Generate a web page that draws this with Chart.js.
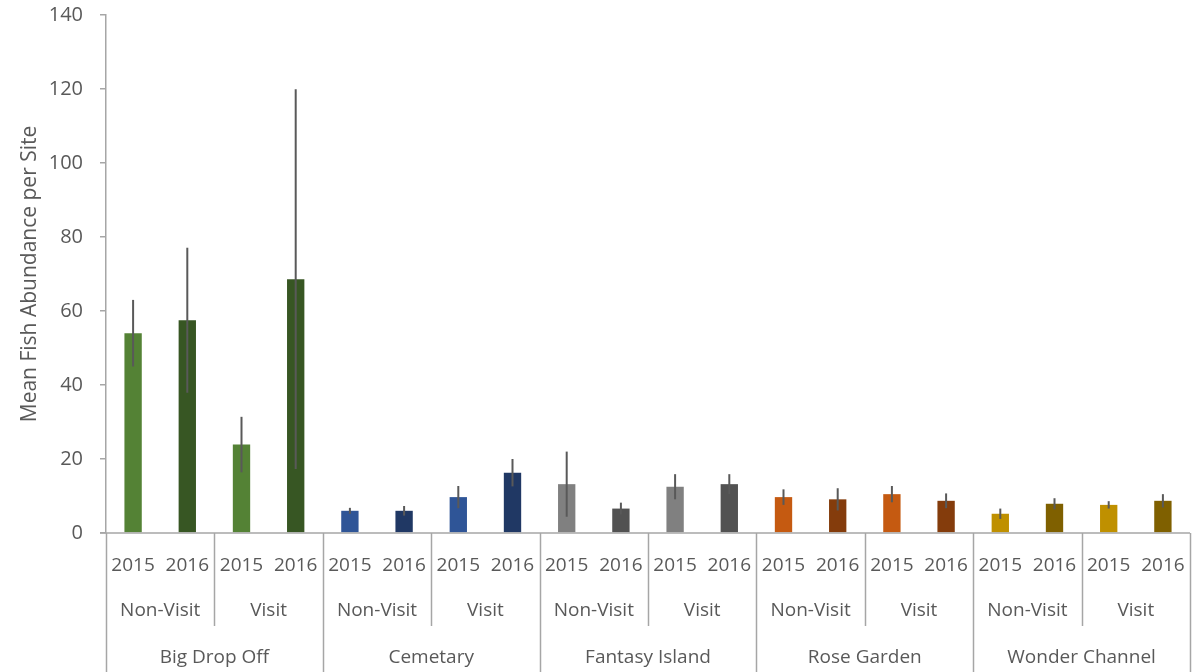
<!DOCTYPE html>
<html>
<head>
<meta charset="utf-8">
<script src="https://cdn.jsdelivr.net/npm/chart.js@4.4.1/dist/chart.umd.min.js"></script>
<style>
  html, body { margin: 0; padding: 0; background: #fff; }
  #wrap { width: 1203px; height: 672px; position: relative; }
</style>
</head>
<body>
<div id="wrap"><canvas id="grafico"></canvas></div>
<script>
// Sites, visit status and survey years (three-level category axis)
const sites  = ['Big Drop Off', 'Cemetary', 'Fantasy Island', 'Rose Garden', 'Wonder Channel'];
const visitas = ['Non-Visit', 'Visit'];
const anos   = ['2015', '2016'];

// Mean fish abundance, in order site > visit > year
const medias = [
  54.0, 57.5, 23.9, 68.6,
   6.0,  6.0,  9.7, 16.3,
  13.2,  6.6, 12.5, 13.2,
   9.7,  9.1, 10.5,  8.7,
   5.2,  7.9,  7.6,  8.7
];

// Error bar half-widths (same order)
const erros = [
   9.0, 19.6,  7.5, 51.3,
   0.8,  1.3,  3.0,  3.7,
   8.8,  1.6,  3.4,  2.7,
   2.1,  3.0,  2.2,  2.0,
   1.4,  1.5,  1.0,  1.8
];

// Per-site colours: [2015, 2016]
const coresSite = [
  ['#548235', '#375623'],
  ['#2F5597', '#203864'],
  ['#808080', '#525252'],
  ['#C55A11', '#843C0C'],
  ['#BF9000', '#7F6000']
];

const COR_TEXTO = '#595959';
const COR_LINHA = '#a6a6a6';
const FONTE = '"Open Sans", "Liberation Sans", sans-serif';

/* ── Montagem das categorias ─────────────────────────────── */
const labels = [];
const cores = [];
sites.forEach((s, si) => {
  visitas.forEach(v => {
    anos.forEach((a, ai) => {
      labels.push(`${s} | ${v} | ${a}`);
      cores.push(coresSite[si][ai]);
    });
  });
});

/* ── Plugin: barras de erro (sem "cap", estilo Excel) ───── */
const barrasErro = {
  id: 'barrasErro',
  afterDatasetsDraw(chart) {
    const { ctx, scales: { x, y } } = chart;
    ctx.save();
    ctx.strokeStyle = '#595959';
    ctx.lineWidth = 2;
    medias.forEach((m, i) => {
      const px = x.getPixelForValue(i);
      ctx.beginPath();
      ctx.moveTo(px, y.getPixelForValue(Math.max(0, m - erros[i])));
      ctx.lineTo(px, y.getPixelForValue(m + erros[i]));
      ctx.stroke();
    });
    ctx.restore();
  }
};

/* ── Plugin: eixo X em três níveis ──────────────────────── */
const eixoMultinivel = {
  id: 'eixoMultinivel',
  afterDraw(chart) {
    const { ctx, chartArea, scales: { x } } = chart;
    const passo = x.getPixelForValue(1) - x.getPixelForValue(0);
    const borda = i => x.getPixelForValue(0) - passo / 2 + i * passo;
    const base = chartArea.bottom;
    const fundo = chart.height;

    ctx.save();
    // eixo horizontal
    ctx.strokeStyle = COR_LINHA;
    ctx.lineWidth = 1.5;
    ctx.beginPath();
    ctx.moveTo(chartArea.left - 6, base);
    ctx.lineTo(borda(labels.length), base);
    ctx.stroke();

    // separadores
    for (let i = 0; i <= labels.length; i += 2) {
      const px = Math.round(borda(i)) + 0.5;
      ctx.beginPath();
      ctx.moveTo(px, base);
      ctx.lineTo(px, i % 4 === 0 ? fundo : base + 93);
      ctx.stroke();
    }

    ctx.fillStyle = COR_TEXTO;
    ctx.font = `19px ${FONTE}`;
    ctx.textAlign = 'center';
    ctx.textBaseline = 'middle';

    labels.forEach((_, i) => {
      ctx.fillText(anos[i % 2], x.getPixelForValue(i), base + 33);
    });
    for (let g = 0; g < labels.length / 2; g++) {
      ctx.fillText(visitas[g % 2], (borda(g * 2) + borda(g * 2 + 2)) / 2, base + 78);
    }
    sites.forEach((s, si) => {
      ctx.fillText(s, (borda(si * 4) + borda(si * 4 + 4)) / 2, base + 125);
    });
    ctx.restore();
  }
};

/* ── Gráfico ─────────────────────────────────────────────── */
new Chart(document.getElementById('grafico'), {
  type: 'bar',
  data: {
    labels,
    datasets: [{
      data: medias,
      backgroundColor: cores,
      borderWidth: 0,
      categoryPercentage: 1,
      barPercentage: 0.32
    }]
  },
  options: {
    responsive: true,
    maintainAspectRatio: false,
    animation: false,
    layout: { padding: { top: 15, right: 13, bottom: 0, left: 0 } },
    plugins: {
      legend: { display: false },
      tooltip: { enabled: false }
    },
    scales: {
      x: {
        grid: { display: false },
        border: { display: false },
        ticks: { display: false },
        afterFit(scale) { scale.height = 139; }
      },
      y: {
        min: 0,
        max: 140,
        ticks: {
          stepSize: 20,
          color: COR_TEXTO,
          padding: 17,
          font: { family: FONTE, size: 20 }
        },
        grid: {
          drawOnChartArea: false,
          drawTicks: true,
          tickLength: 6,
          color: COR_LINHA,
          lineWidth: 1.5
        },
        border: { color: COR_LINHA, width: 1.5 },
        title: {
          display: true,
          text: 'Mean Fish Abundance per Site',
          color: COR_TEXTO,
          font: { family: FONTE, size: 21 },
          padding: { top: 17, bottom: 4 }
        },
        afterFit(scale) {
          // largura fixa do eixo e sem margem extra acima do "140"
          scale.width = 106;
          scale.paddingTop = 0;
          scale.paddingBottom = 0;
        }
      }
    }
  },
  plugins: [barrasErro, eixoMultinivel]
});
</script>
</body>
</html>
